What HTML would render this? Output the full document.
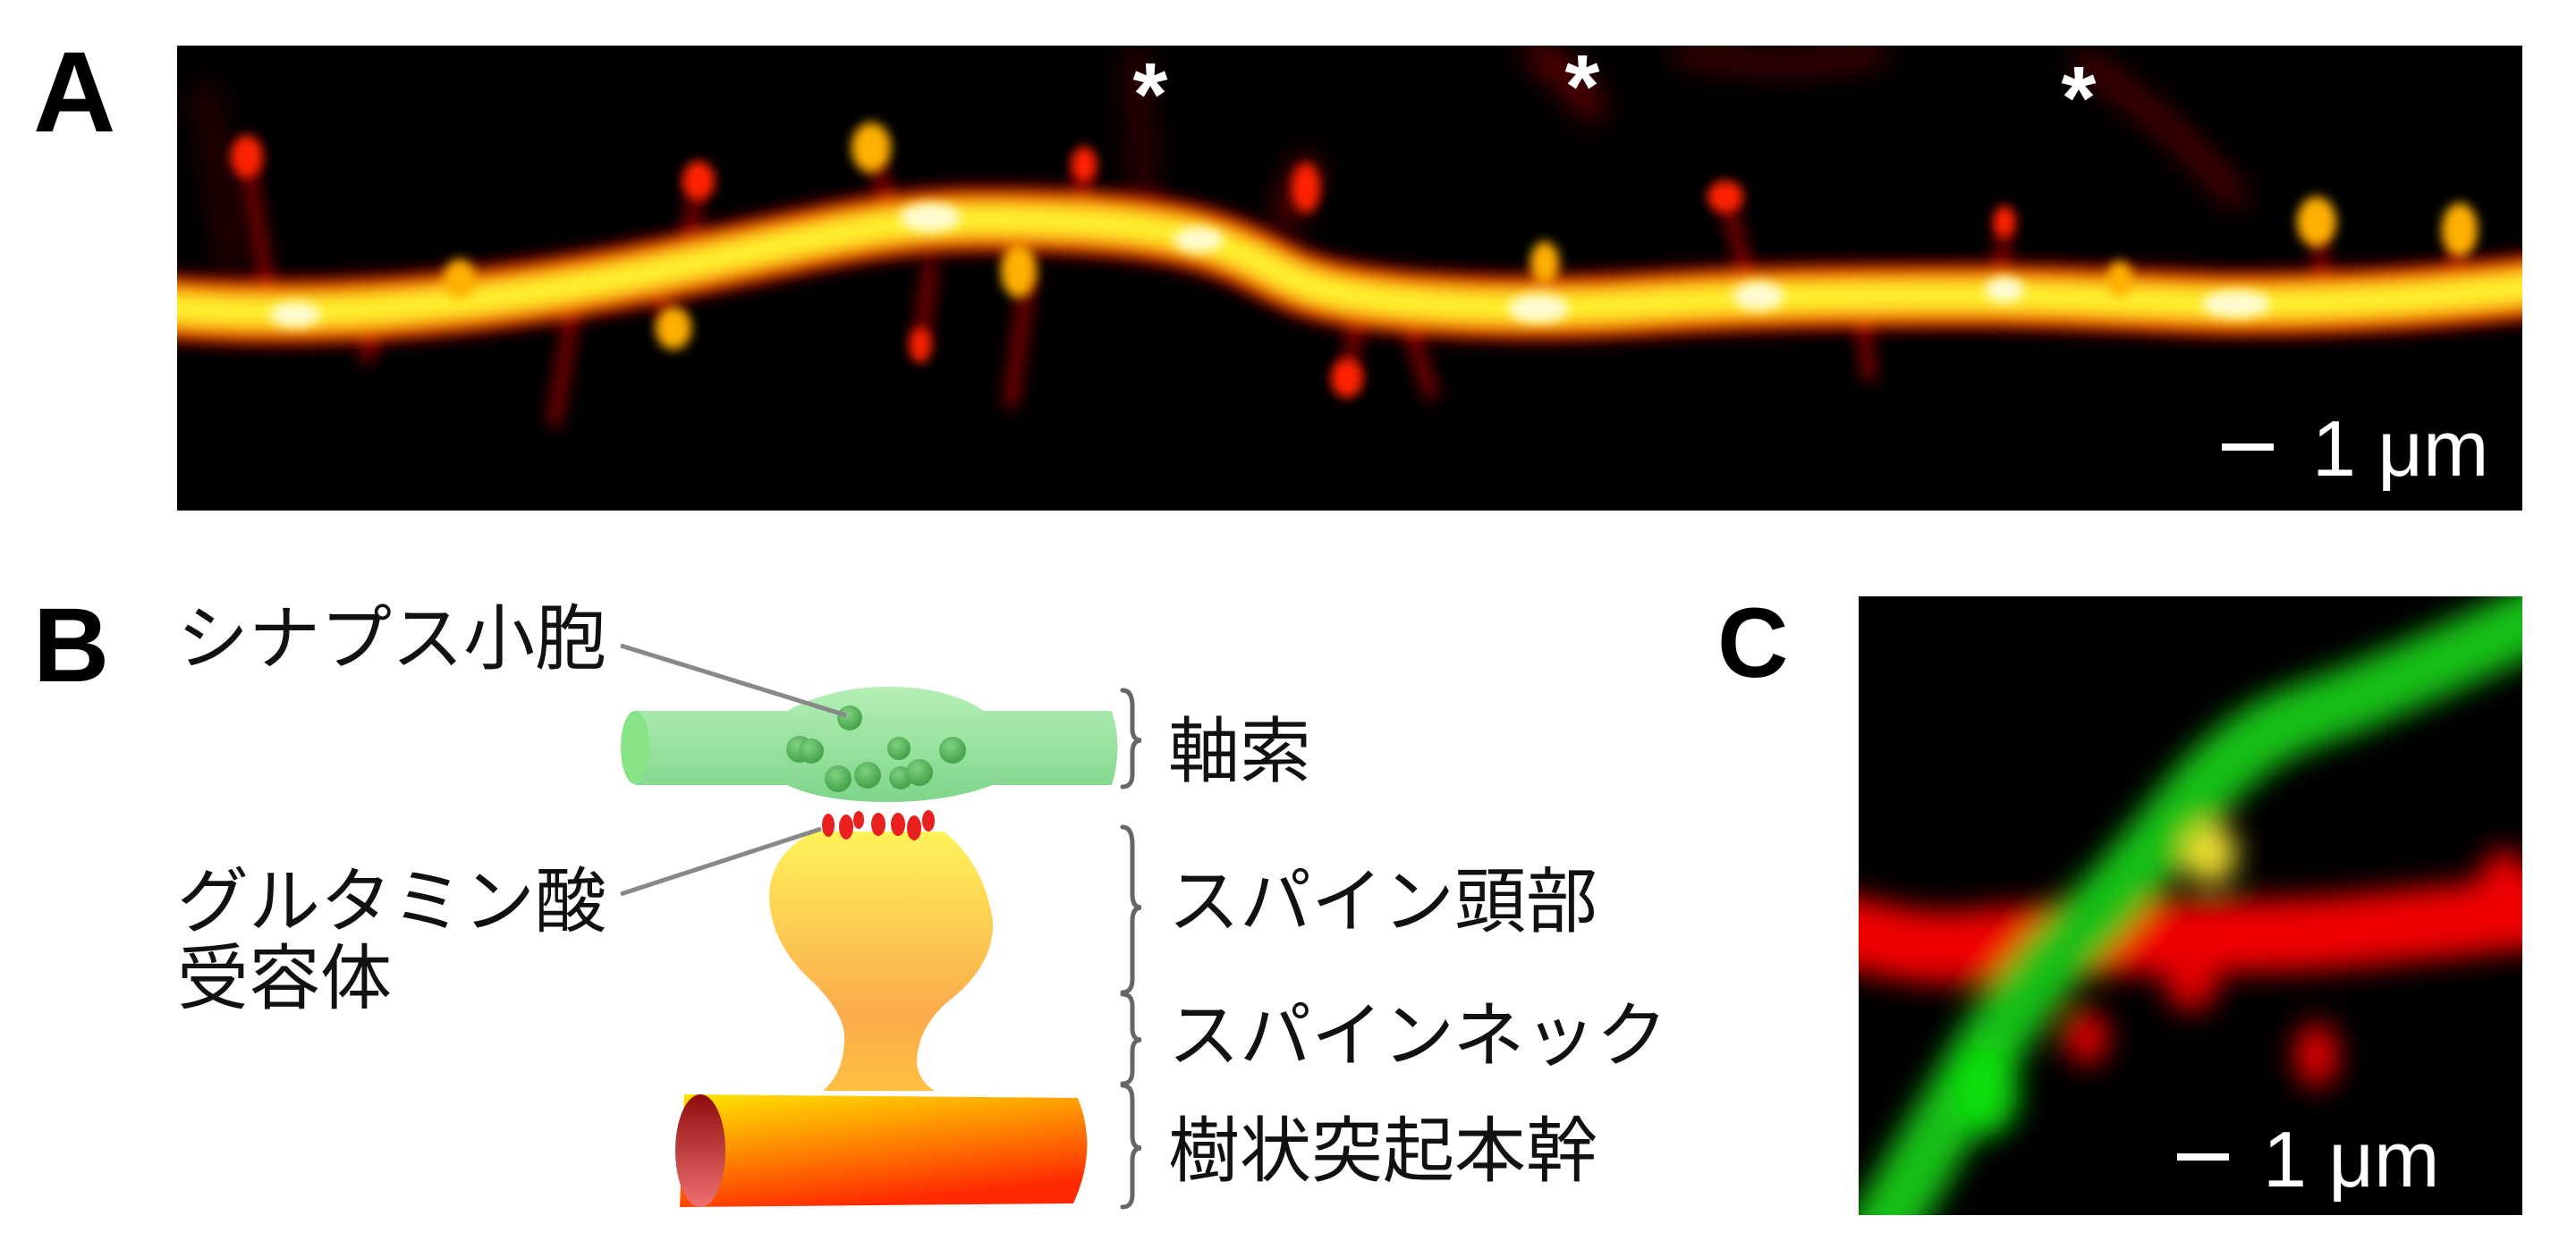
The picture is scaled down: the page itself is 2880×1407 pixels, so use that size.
<!DOCTYPE html>
<html><head><meta charset="utf-8"><style>
html,body{margin:0;padding:0;background:#fff;}
svg{display:block;}
</style></head><body>
<svg width="2880" height="1407" viewBox="0 0 2880 1407" xmlns="http://www.w3.org/2000/svg">
<defs>
<filter id="b1" x="-20%" y="-50%" width="140%" height="200%"><feGaussianBlur stdDeviation="9"/></filter>
<filter id="b2" x="-20%" y="-50%" width="140%" height="200%"><feGaussianBlur stdDeviation="6"/></filter>
<filter id="b3" x="-20%" y="-50%" width="140%" height="200%"><feGaussianBlur stdDeviation="16"/></filter>
<clipPath id="ca"><rect x="198" y="51" width="2622" height="520"/></clipPath>
<clipPath id="cc"><rect x="2078" y="667" width="742" height="692"/></clipPath>
<linearGradient id="gAx" x1="0" y1="0" x2="0" y2="1"><stop offset="0" stop-color="#b5efb5"/><stop offset="1" stop-color="#7ed58a"/></linearGradient>
<linearGradient id="gSp" x1="0" y1="0" x2="0" y2="1"><stop offset="0" stop-color="#fff35a"/><stop offset="0.7" stop-color="#fbab4c"/><stop offset="1" stop-color="#fdc040"/></linearGradient>
<linearGradient id="gDe" x1="0" y1="0" x2="0.4" y2="1"><stop offset="0" stop-color="#ffe600"/><stop offset="0.5" stop-color="#ff8a00"/><stop offset="1" stop-color="#ff2a00"/></linearGradient>
<linearGradient id="gEnd" x1="0" y1="0" x2="0" y2="1"><stop offset="0" stop-color="#8e0c0c"/><stop offset="1" stop-color="#f07070"/></linearGradient>
<radialGradient id="gVes" cx="0.4" cy="0.35" r="0.6"><stop offset="0" stop-color="#7fd07f"/><stop offset="1" stop-color="#3f9f45"/></radialGradient>
</defs>

<!-- Panel A -->
<rect x="198" y="51" width="2622" height="520" fill="#000"/>
<g clip-path="url(#ca)">
  <g filter="url(#b3)" stroke="#7a0000" fill="none" stroke-linecap="round" opacity="0.8">
    <path d="M1270 60 L1280 240" stroke-width="14"/>
    <path d="M1720 60 Q1760 90 1780 120" stroke-width="30"/>
    <path d="M1880 60 Q2000 80 2100 60" stroke-width="18"/>
    <path d="M2330 70 Q2420 130 2500 220" stroke-width="22"/>
    <path d="M230 100 L260 300" stroke-width="12"/>
    <path d="M1460 190 L1440 240" stroke-width="30"/>
  </g>
  <g filter="url(#b1)" fill="none" stroke-linecap="round">
    <g stroke="#c00000" stroke-width="14" opacity="0.75">
      <path d="M276 175 L300 330"/><path d="M781 202 L760 320"/><path d="M974 165 L1000 250"/>
      <path d="M1212 184 L1205 250"/><path d="M1139 303 L1130 250"/><path d="M753 367 L730 320"/>
      <path d="M514 312 L520 345"/><path d="M1727 294 L1730 340"/><path d="M1929 220 L1960 330"/>
      <path d="M2241 248 L2235 330"/><path d="M2590 248 L2600 330"/><path d="M2750 257 L2740 320"/>
      <path d="M1506 423 L1520 340"/><path d="M1029 386 L1040 300"/><path d="M2370 312 L2380 345"/>
      <path d="M1150 310 L1130 450"/><path d="M1570 350 L1600 440"/><path d="M2080 340 L2090 420"/>
      <path d="M430 340 L410 400"/><path d="M640 350 L620 470"/>
    </g>
    <path d="M150 340 C300 358 500 350 735 303 S1000 239 1194 248 S1400 300 1470 321 S1700 349 1837 340 S2100 331 2204 331 S2450 340 2498 340 S2700 340 2900 312" stroke="#ee0000" stroke-width="72"/>
    <path d="M150 340 C300 358 500 350 735 303 S1000 239 1194 248 S1400 300 1470 321 S1700 349 1837 340 S2100 331 2204 331 S2450 340 2498 340 S2700 340 2900 312" stroke="#ffb000" stroke-width="46"/>
    <path d="M150 340 C300 358 500 350 735 303 S1000 239 1194 248 S1400 300 1470 321 S1700 349 1837 340 S2100 331 2204 331 S2450 340 2498 340 S2700 340 2900 312" stroke="#fff430" stroke-width="26"/>
  </g>
  <g filter="url(#b2)">
    <g fill="#ff2000">
      <ellipse cx="276" cy="175" rx="18" ry="24"/><ellipse cx="781" cy="202" rx="18" ry="22"/>
      <ellipse cx="1212" cy="184" rx="14" ry="20"/><ellipse cx="1506" cy="423" rx="18" ry="22"/>
      <ellipse cx="1029" cy="386" rx="12" ry="20"/><ellipse cx="1929" cy="220" rx="20" ry="18"/>
      <ellipse cx="2241" cy="248" rx="12" ry="18"/><ellipse cx="1460" cy="210" rx="16" ry="28"/>
    </g>
    <g fill="#ffb000">
      <ellipse cx="974" cy="165" rx="22" ry="28"/><ellipse cx="2590" cy="248" rx="22" ry="28"/>
      <ellipse cx="2750" cy="257" rx="20" ry="30"/><ellipse cx="1139" cy="303" rx="20" ry="30"/>
      <ellipse cx="753" cy="367" rx="20" ry="24"/><ellipse cx="514" cy="312" rx="18" ry="22"/>
      <ellipse cx="1727" cy="294" rx="16" ry="24"/><ellipse cx="2370" cy="312" rx="14" ry="20"/>
    </g>
    <g fill="#fffbd0">
      <ellipse cx="1040" cy="243" rx="34" ry="16"/><ellipse cx="1720" cy="345" rx="34" ry="16"/>
      <ellipse cx="1966" cy="331" rx="28" ry="16"/><ellipse cx="2500" cy="340" rx="38" ry="15"/>
      <ellipse cx="2241" cy="324" rx="22" ry="14"/><ellipse cx="1340" cy="268" rx="28" ry="14"/>
      <ellipse cx="330" cy="352" rx="28" ry="14"/>
    </g>
  </g>
</g>
<text x="37" y="147" font-family="Liberation Sans, sans-serif" font-weight="bold" font-size="128">A</text>
<g font-family="Liberation Sans, sans-serif" font-weight="bold" font-size="100" fill="#fff" text-anchor="middle">
<text x="1286" y="140">*</text><text x="1769" y="131">*</text><text x="2324" y="144">*</text>
</g>
<rect x="2484" y="496" width="58" height="8" fill="#fff"/>
<text x="2585" y="532" font-family="Liberation Sans, sans-serif" font-size="88" fill="#fff">1 μm</text>

<!-- Panel B -->
<text x="37" y="762" font-family="Liberation Sans, sans-serif" font-weight="bold" font-size="118">B</text>
<g font-family="Liberation Sans, 'Noto Sans CJK JP', sans-serif" font-size="80" fill="#111">
<text x="198" y="742">シナプス小胞</text>
<text x="198" y="1036">グルタミン酸</text>
<text x="198" y="1122">受容体</text>
<text x="1306" y="868">軸索</text>
<text x="1306" y="1036">スパイン頭部</text>
<text x="1306" y="1186">スパインネック</text>
<text x="1306" y="1315">樹状突起本幹</text>
</g>
<!-- axon -->
<path d="M710 795 L880 795 Q930 768 992 768 Q1060 768 1100 795 L1243 795 Q1256 836 1243 878 L1110 878 Q1060 897 992 897 Q920 897 880 878 L710 878 Z" fill="url(#gAx)"/>
<ellipse cx="710" cy="836" rx="16" ry="41" fill="#86e486"/>
<g fill="url(#gVes)" opacity="0.9">
<circle cx="950" cy="803" r="14"/><circle cx="894" cy="838" r="15"/><circle cx="907" cy="840" r="14"/>
<circle cx="1005" cy="837" r="13"/><circle cx="1065" cy="839" r="15"/><circle cx="937" cy="871" r="15"/>
<circle cx="970" cy="867" r="15"/><circle cx="1007" cy="870" r="13"/><circle cx="1028" cy="864" r="15"/>
</g>
<!-- spine -->
<path d="M910 930 L1055 930 Q1100 965 1110 1030 Q1112 1080 1060 1120 Q1025 1150 1025 1190 Q1028 1210 1045 1220 L920 1220 Q944 1200 944 1160 Q944 1130 900 1090 Q860 1050 860 1000 Q862 955 910 930 Z" fill="url(#gSp)"/>
<path d="M765 1224 L1205 1228 Q1228 1285 1200 1346 L760 1350 Z" fill="url(#gDe)"/>
<ellipse cx="783" cy="1287" rx="28" ry="63" fill="url(#gEnd)"/>
<g fill="#e82020">
<ellipse cx="926" cy="923" rx="7" ry="13"/><ellipse cx="946" cy="925" rx="8" ry="14"/><ellipse cx="960" cy="917" rx="6" ry="10"/>
<ellipse cx="982" cy="922" rx="8" ry="13"/><ellipse cx="1004" cy="922" rx="8" ry="13"/><ellipse cx="1022" cy="926" rx="8" ry="14"/><ellipse cx="1038" cy="918" rx="7" ry="12"/>
</g>
<!-- leader lines -->
<g stroke="#888" stroke-width="5"><line x1="694" y1="722" x2="946" y2="800"/><line x1="694" y1="1000" x2="918" y2="927"/></g>
<!-- braces -->
<g fill="none" stroke="#666" stroke-width="5" stroke-linecap="round">
<path d="M1255 772 Q1266 772 1266 790 L1266 815 Q1266 828 1276 828 Q1266 828 1266 842 L1266 866 Q1266 880 1255 880"/>
<path d="M1255 925 Q1266 925 1266 945 L1266 1000 Q1266 1015 1276 1015 Q1266 1015 1266 1030 L1266 1095 Q1266 1110 1255 1110"/>
<path d="M1255 1112 Q1266 1112 1266 1125 L1266 1150 Q1266 1163 1276 1163 Q1266 1163 1266 1176 L1266 1198 Q1266 1212 1255 1212"/>
<path d="M1255 1214 Q1266 1214 1266 1230 L1266 1270 Q1266 1284 1276 1284 Q1266 1284 1266 1298 L1266 1336 Q1266 1350 1255 1350"/>
</g>

<!-- Panel C -->
<text x="1920" y="757" font-family="Liberation Sans, sans-serif" font-weight="bold" font-size="110">C</text>
<rect x="2078" y="667" width="742" height="692" fill="#000"/>
<g clip-path="url(#cc)">
 <g filter="url(#b3)" fill="none" stroke-linecap="round">
  <path d="M2060 1040 Q2150 1065 2204 1058 T2388 1049 T2572 1045 T2880 1015" stroke="#f00000" stroke-width="80"/>
  <ellipse cx="2333" cy="1160" rx="24" ry="30" fill="#e80000" stroke="none"/>
  <ellipse cx="2590" cy="1180" rx="24" ry="36" fill="#e80000" stroke="none"/>
  <ellipse cx="2450" cy="1100" rx="30" ry="30" fill="#e00000" stroke="none"/>
  <ellipse cx="2800" cy="1000" rx="30" ry="50" fill="#f00000" stroke="none"/>
  <path d="M2090 1400 Q2160 1280 2210 1194 T2320 1047 T2443 905 T2580 800 T2860 680" stroke="#12c012" stroke-width="74"/>
  <ellipse cx="2220" cy="1220" rx="36" ry="50" fill="#10e010" stroke="none"/>
  <ellipse cx="2471" cy="955" rx="30" ry="34" fill="#f0e030" stroke="none"/>
 </g>
</g>
<rect x="2434" y="1290" width="58" height="8" fill="#fff"/>
<text x="2530" y="1327" font-family="Liberation Sans, sans-serif" font-size="88" fill="#fff">1 μm</text>
</svg>
</body></html>
